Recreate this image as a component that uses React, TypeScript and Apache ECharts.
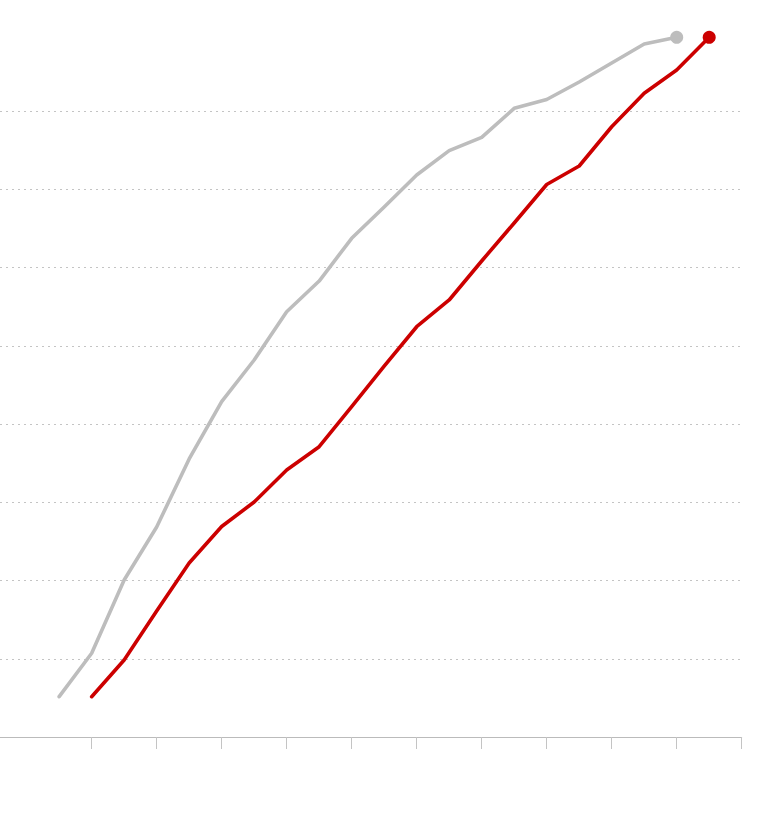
import React, { useEffect, useRef } from "react";
import * as echarts from "echarts";

// x positions are step indices (one step = half a tick interval)
const grayX = [0, 1, 2, 3, 4, 5, 6, 7, 8, 9, 10, 11, 12, 13, 14, 15, 16, 17, 18, 19];
const grayValues = [0.515, 1.07, 2.006, 2.684, 3.553, 4.285, 4.818, 5.435, 5.827, 6.373, 6.773, 7.182, 7.493, 7.664, 8.034, 8.147, 8.371, 8.613, 8.856, 8.942];
const redX = [1, 2, 3, 4, 5, 6, 7, 8, 9, 10, 11, 12, 13, 14, 15, 16, 17, 18, 19, 20];
const redValues = [0.515, 0.984, 1.61, 2.224, 2.69, 3.003, 3.412, 3.71, 4.221, 4.741, 5.243, 5.585, 6.083, 6.569, 7.061, 7.297, 7.799, 8.226, 8.524, 8.942];
const xTicks = [1, 3, 5, 7, 9, 11, 13, 15, 17, 19, 21];

const GRAY = "#bdbdbd";
const RED = "#cc0000";

export default function App() {
  const ref = useRef<HTMLDivElement>(null);
  useEffect(() => {
    if (!ref.current) return;
    const chart = echarts.init(ref.current, null, { renderer: "svg" });
    const grayData = grayX.map((x, i) => [x, grayValues[i]]);
    const redData = redX.map((x, i) => [x, redValues[i]]);
    chart.setOption({
      animation: false,
      backgroundColor: "#ffffff",
      grid: { left: 0, right: 18.3, top: 32.75, bottom: 83, containLabel: false },
      xAxis: {
        type: "value",
        min: -1.82,
        max: 21,
        axisLine: { show: true, lineStyle: { color: "#bbbbbb", width: 1 } },
        axisTick: {
          show: true,
          customValues: xTicks,
          length: 12,
          inside: false,
          lineStyle: { color: "#c4c4c4", width: 1 },
        },
        axisLabel: { show: false },
        splitLine: { show: false },
      },
      yAxis: {
        type: "value",
        min: 0,
        max: 9,
        interval: 1,
        axisLine: { show: false },
        axisTick: { show: false },
        axisLabel: { show: false },
        splitLine: {
          show: true,
          showMinLine: false,
          showMaxLine: false,
          lineStyle: { color: "#c4c4c4", type: [2, 4], width: 1 },
        },
      },
      series: [
        {
          type: "line",
          data: grayData,
          symbol: "none",
          lineStyle: { color: GRAY, width: 3.6, cap: "round", join: "round" },
          emphasis: { disabled: true },
          z: 2,
        },
        {
          type: "line",
          data: redData,
          symbol: "none",
          lineStyle: { color: RED, width: 3.6, cap: "round", join: "round" },
          emphasis: { disabled: true },
          z: 3,
        },
        {
          type: "scatter",
          data: [grayData[grayData.length - 1]],
          symbol: "circle",
          symbolSize: 13,
          itemStyle: { color: GRAY, opacity: 1 },
          emphasis: { disabled: true },
          z: 4,
        },
        {
          type: "scatter",
          data: [redData[redData.length - 1]],
          symbol: "circle",
          symbolSize: 13,
          itemStyle: { color: RED, opacity: 1 },
          emphasis: { disabled: true },
          z: 5,
        },
      ],
    });
    return () => chart.dispose();
  }, []);
  return (
    <div
      ref={ref}
      style={{ position: "fixed", left: 0, top: 0, width: 760, height: 820 }}
    />
  );
}
